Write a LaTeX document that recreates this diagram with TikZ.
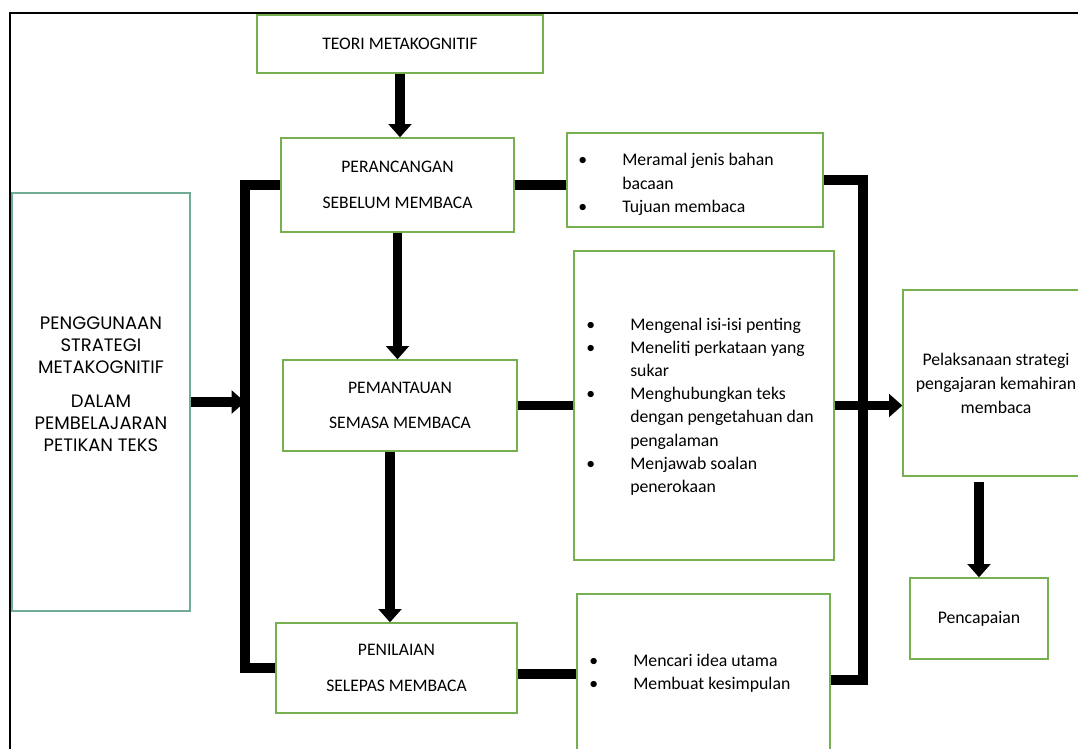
\documentclass[tikz,border=0pt]{standalone}
\usepackage{fontspec}
\setmainfont{Carlito}
\newfontfamily\gothic{Poppins}
\usetikzlibrary{arrows.meta}
\definecolor{boxgreen}{RGB}{118,176,80}
\definecolor{tealgreen}{RGB}{112,172,148}
\newcommand\bul{\makebox[33pt][l]{\textbullet}}
\newcommand\ind{\hspace*{33pt}}
\begin{document}
\begin{tikzpicture}[x=0.75pt,y=-0.75pt,
  box/.style={draw=boxgreen,line width=1pt,inner sep=0pt},
  conn/.style={line width=7pt,line join=miter},
  arr/.style={conn,-{Triangle[width=17pt,length=10pt]}},
  lbl/.style={font=\fontsize{13.2}{26.5}\selectfont,align=center},
  lst/.style={font=\fontsize{13.3}{17.4}\selectfont,align=left,anchor=west,inner sep=0pt}]
\clip (0,0) rectangle (1078,749);
% frame
\draw[line width=2pt] (10,760) -- (10,13) -- (1090,13);
% boxes
\node[box,lbl,minimum width=286*0.75pt,minimum height=58*0.75pt] (teori) at (400,44) {TEORI METAKOGNITIF};
\node[box,lbl,minimum width=233*0.75pt,minimum height=94*0.75pt] (per) at (397.5,185) {PERANCANGAN\\SEBELUM MEMBACA};
\node[box,lbl,minimum width=234*0.75pt,minimum height=91*0.75pt] (pem) at (400,405.5) {PEMANTAUAN\\SEMASA MEMBACA};
\node[box,lbl,minimum width=241*0.75pt,minimum height=90*0.75pt] (pen) at (396.5,668) {PENILAIAN\\SELEPAS MEMBACA};
\node[box,draw=tealgreen,minimum width=178*0.75pt,minimum height=418*0.75pt] (left) at (101,402) {};
\node[font=\gothic\fontsize{13.5}{16.5}\selectfont,align=center] (lefttext) at (101,384)
  {PENGGUNAAN\\STRATEGI\\METAKOGNITIF\\[9pt]DALAM\\PEMBELAJARAN\\PETIKAN TEKS};
\node[box,minimum width=256*0.75pt,minimum height=94*0.75pt] (b1) at (695,180) {};
\node[box,minimum width=260*0.75pt,minimum height=309*0.75pt] (b2) at (704,405.5) {};
\node[box,minimum width=253*0.75pt,minimum height=172*0.75pt] (b3) at (703.5,680) {};
\node[lst] (t1) at (578,184.5) {\bul Meramal jenis bahan\\\ind bacaan\\\bul Tujuan membaca};
\node[lst] (t2) at (586,406.5) {\bul Mengenal isi-isi penting\\\bul Meneliti perkataan yang\\\ind sukar\\\bul Menghubungkan teks\\\ind dengan pengetahuan dan\\\ind pengalaman\\\bul Menjawab soalan\\\ind penerokaan};
\node[lst] (t3) at (589,673.5) {\bul Mencari idea utama\\\bul Membuat kesimpulan};
\node[box,font=\fontsize{13.3}{18}\selectfont,align=center,minimum width=186*0.75pt,minimum height=186*0.75pt] (pel) at (996,383) {Pelaksanaan strategi\\pengajaran kemahiran\\membaca};
\node[box,font=\fontsize{13.3}{18}\selectfont,minimum width=138*0.75pt,minimum height=81*0.75pt] (pc) at (979,618.5) {Pencapaian};
% helper coordinates
\coordinate (lbx) at (245,0);
\coordinate (rbx) at (863,0);
% connectors
\draw[arr] (teori.south) -- (teori.south |- per.north);
\draw[arr] (per.south) -- (per.south |- pem.north);
\draw[arr] ([xshift=-7.5pt]pem.south) -- ([xshift=-7.5pt]pem.south |- pen.north);
\draw[conn] (per.west) -- (per.west -| lbx) -- (pen.west -| lbx) -- (pen.west);
\draw[arr] (left.east) -- (left.east -| lbx);
\draw[conn] (per.east) -- (per.east -| b1.west);
\draw[conn] (pem.east) -- (pem.east -| b2.west);
\draw[conn] ([yshift=-4.5pt]pen.east) -- ([yshift=-4.5pt]pen.east -| b3.west);
\draw[conn] (b1.east) -- (b1.east -| rbx) -- (b3.east -| rbx) -- (b3.east);
\draw[arr] (b2.east) -- (b2.east -| pel.west);
\draw[arr,shorten <=3.75pt] (pc.north |- pel.south) -- (pc.north);
\end{tikzpicture}
\end{document}
